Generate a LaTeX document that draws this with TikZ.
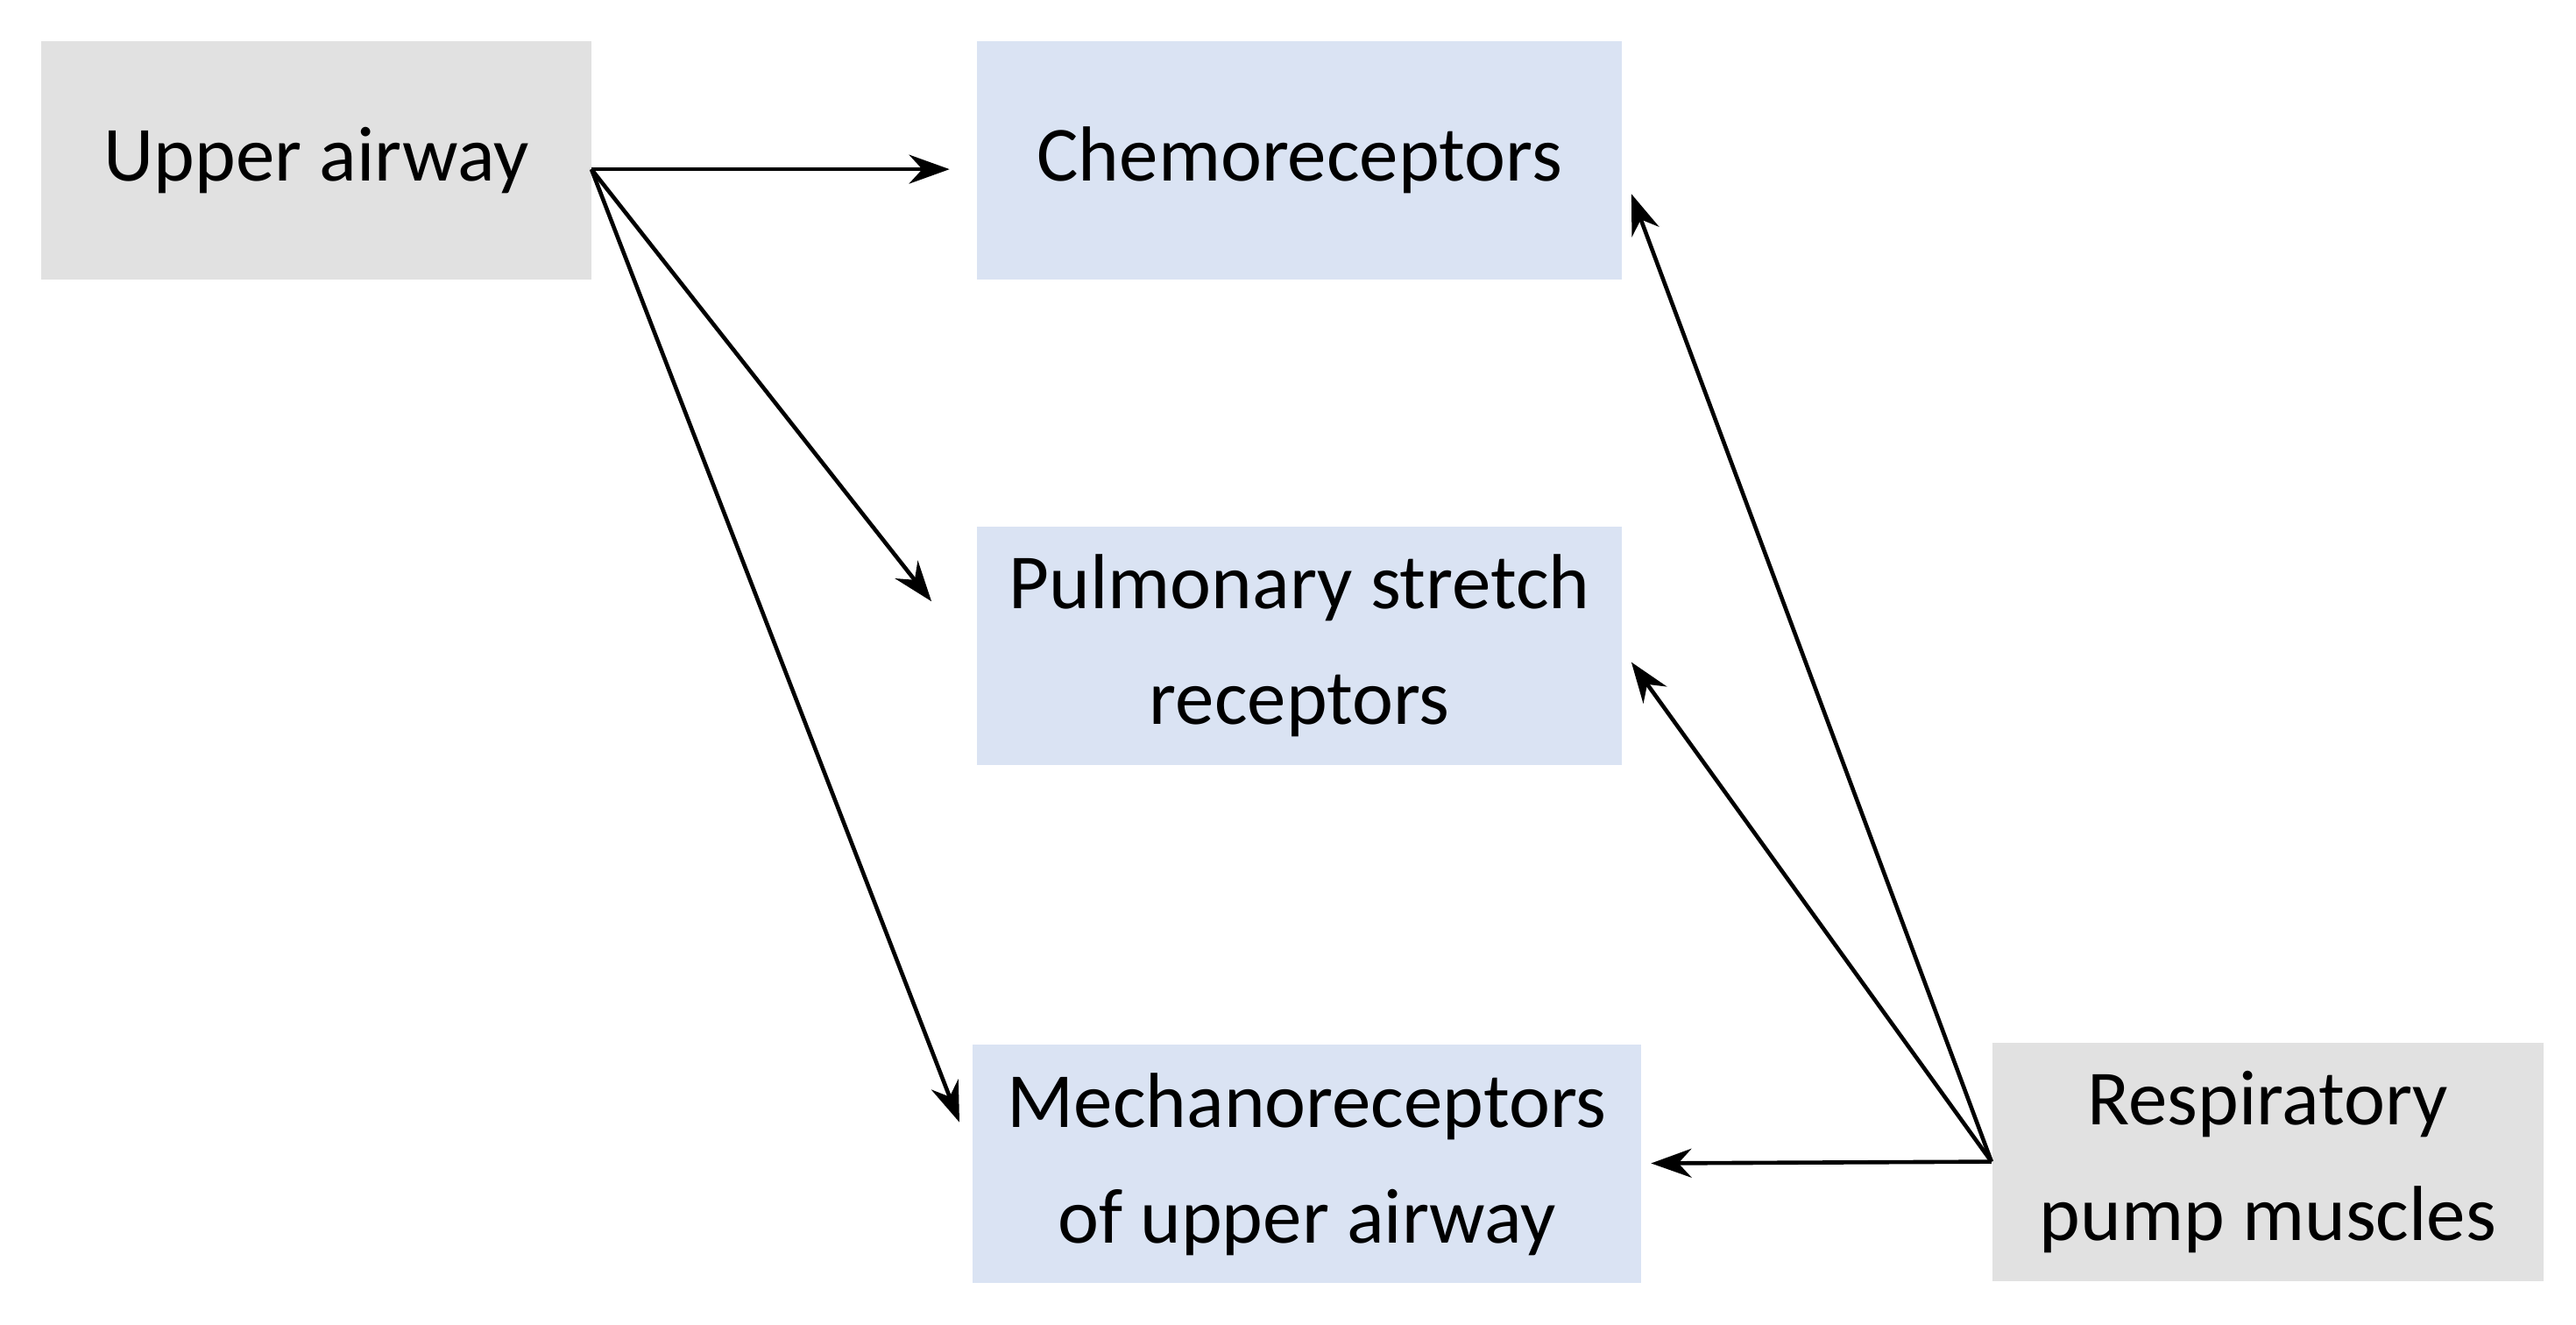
\documentclass[tikz,border=0pt]{standalone}
\usepackage{fontspec}
\setmainfont{Carlito}
\usetikzlibrary{arrows.meta}
\definecolor{boxgray}{HTML}{E1E1E1}
\definecolor{boxblue}{HTML}{DAE3F3}
\tikzset{
  graybox/.style={fill=boxgray, minimum width=3.35cm, minimum height=1.45cm, align=center, font=\fontsize{13.5}{20}\selectfont},
  bluebox/.style={fill=boxblue, minimum height=1.45cm, align=center, font=\fontsize{13.5}{20}\selectfont},
  arr/.style={-{Stealth[length=7pt,width=5pt]}, line width=0.7pt}
}
\begin{document}
\begin{tikzpicture}[x=0.01cm,y=-0.01cm]
\useasboundingbox (0,0) rectangle (1568,806);
% boxes
\node[graybox] (ua) at (192.5,97.5) {Upper airway};
\node[bluebox, minimum width=3.92cm] (chemo) at (791,97.5) {Chemoreceptors};
\node[bluebox, minimum width=3.92cm] (pulm) at (791,393) {Pulmonary stretch\\receptors};
\node[bluebox, minimum width=4.07cm] (mech) at (795.5,708.5) {Mechanoreceptors\\of upper airway};
\node[graybox] (resp) at (1380.5,707) {Respiratory\\pump muscles};
% free arrow ends
\coordinate (ua-out) at (360,103);
\coordinate (chemo-in) at (578,103);
\coordinate (pulm-in) at (567,366);
\coordinate (mech-in) at (584,683);
\coordinate (chemo-r) at (993,118);
\coordinate (pulm-r) at (993,403);
\coordinate (mech-r) at (1005,708);
% connectors
\draw[arr] (ua-out) -- (chemo-in);
\draw[arr] (ua-out) -- (pulm-in);
\draw[arr] (ua-out) -- (mech-in);
\draw[arr] (resp.west) -- (chemo-r);
\draw[arr] (resp.west) -- (pulm-r);
\draw[arr] (resp.west) -- (mech-r);
\end{tikzpicture}
\end{document}
